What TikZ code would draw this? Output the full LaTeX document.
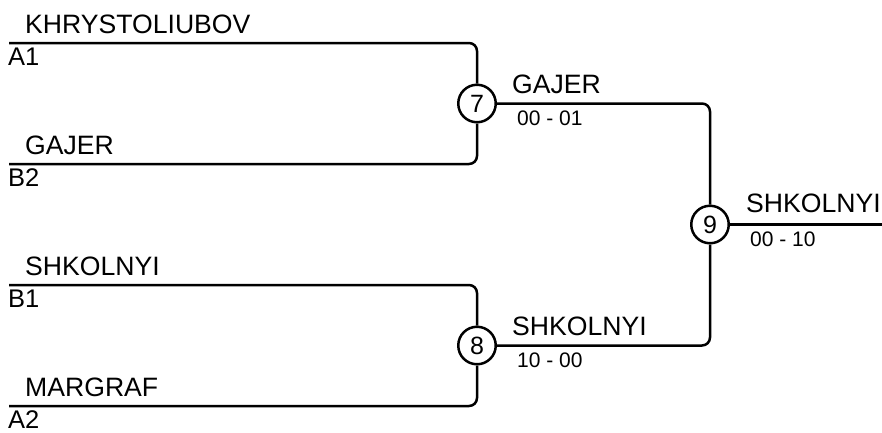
\documentclass[tikz,border=0pt]{standalone}
\usepackage{fontspec}
\setmainfont{Liberation Sans}
\usetikzlibrary{trees}

\tikzset{
  game/.style={draw, circle, line width=2.5pt, minimum size=37.5pt, inner sep=0pt, font=\fontsize{25}{25}\selectfont},
  player/.style={anchor=base west, inner sep=0pt, font=\fontsize{26.6}{26.6}\selectfont},
  seed/.style={anchor=base west, inner sep=0pt, font=\fontsize{25.5}{25.5}\selectfont},
  score/.style={anchor=base west, inner sep=0pt, font=\fontsize{21}{21}\selectfont},
  bracket/.style={draw, line width=2.5pt, rounded corners=8pt}
}

\begin{document}
\begin{tikzpicture}[x=1pt, y=-1pt,
  level 1/.style={grow via three points={one child at (-233,0) and two children at (-233,-121) and (-233,121)}},
  level 2/.style={grow via three points={one child at (-468,0) and two children at (-468,-60.5) and (-468,60.5)}},
  edge from parent path={(\tikzparentnode) |- (\tikzchildnode)}, edge from parent/.style={bracket}]
\useasboundingbox (0,0) rectangle (882,432);
\node[game] (m9) at (710,224.5) {9}
    child { node[game] (m7) {7}
        child { coordinate (a1) }
        child { coordinate (b2) }
        }
    child { node[game] (m8) {8}
        child { coordinate (b1) }
        child { coordinate (a2) }
        }
;
\coordinate (champ) at (882,224.5);
\draw[bracket] (m9) -- (champ);
% first round
\foreach \c/\n/\s in {a1/KHRYSTOLIUBOV/A1, b2/GAJER/B2, b1/SHKOLNYI/B1, a2/MARGRAF/A2} {
  \node[player, xshift=16pt, yshift=10pt] (n-\c) at (\c) {\n};
  \node[seed, xshift=-1pt, yshift=-22pt] (s-\c) at (\c) {\s};
}
% winners
\node[player, xshift=15pt, yshift=10pt] (w7) at (m7.east) {GAJER};
\node[score, xshift=20pt, yshift=-22pt] (r7) at (m7.east) {00 - 01};
\node[player, xshift=15pt, yshift=10pt] (w8) at (m8.east) {SHKOLNYI};
\node[score, xshift=20pt, yshift=-22pt] (r8) at (m8.east) {10 - 00};
\node[player, xshift=16pt, yshift=12pt] (w9) at (m9.east) {SHKOLNYI};
\node[score, xshift=20pt, yshift=-22pt] (r9) at (m9.east) {00 - 10};
\end{tikzpicture}
\end{document}
